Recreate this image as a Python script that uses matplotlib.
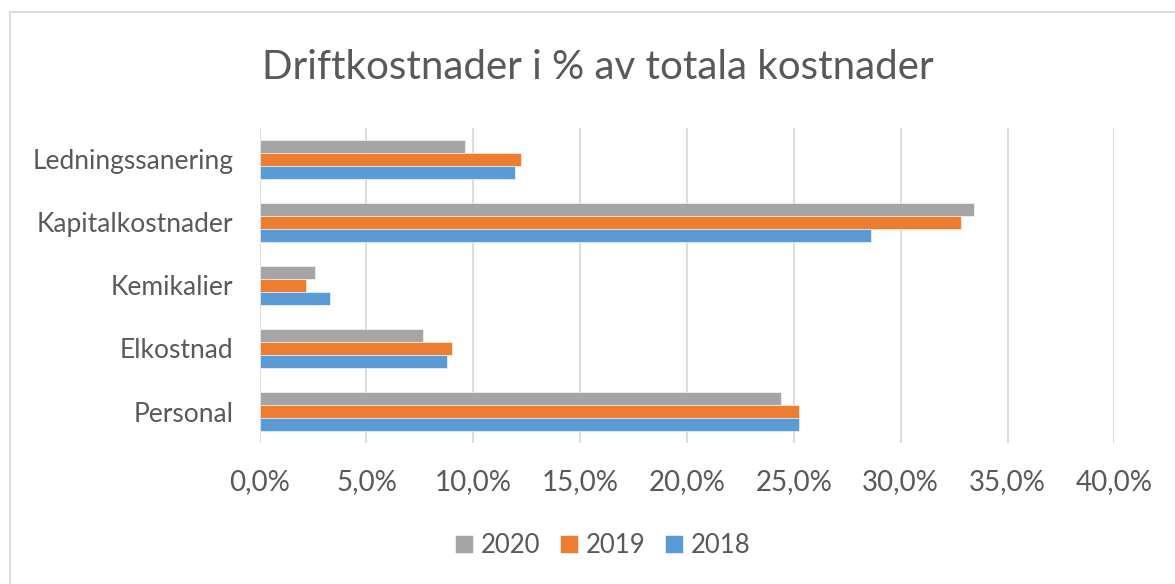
import matplotlib.pyplot as plt
import numpy as np
from matplotlib.patches import Rectangle
from matplotlib.ticker import FuncFormatter

plt.rcParams["font.family"] = ["Lato", "DejaVu Sans"]

categories = ["Personal", "Elkostnad", "Kemikalier", "Kapitalkostnader", "Ledningssanering"]
series = ["2020", "2019", "2018"]
values = {
    "2020": [24.4, 7.65, 2.6, 33.45, 9.6],
    "2019": [25.25, 9.0, 2.15, 32.8, 12.25],
    "2018": [25.25, 8.75, 3.3, 28.6, 11.95],
}
colors = {"2020": "#A5A5A5", "2019": "#ED7D31", "2018": "#5B9BD5"}
ticks = [0, 5, 10, 15, 20, 25, 30, 35, 40]

text_col = "#595959"

fig = plt.figure(figsize=(11.75, 5.84), dpi=100)
ax = fig.add_axes([0.2209, 0.2414, 0.7275, 0.5396])

y = np.arange(len(categories))
h = 0.206
offsets = {"2020": h, "2019": 0, "2018": -h}
for s in series:
    ax.barh(y + offsets[s], values[s], height=h, color=colors[s], label=s,
            edgecolor="white", linewidth=0.4, zorder=3)

ax.set_xlim(0, 40)
ax.set_ylim(-0.5, len(categories) - 0.5)
ax.set_xticks(ticks)
ax.xaxis.set_major_formatter(FuncFormatter(lambda v, p: f"{v:.1f}%".replace(".", ",")))
ax.set_yticks(y)
ax.set_yticklabels(categories)
ax.grid(axis="x", color="#D9D9D9", linewidth=1.3, zorder=0)
for sp in ax.spines.values():
    sp.set_visible(False)
ax.tick_params(axis="both", length=0, colors=text_col)
ax.tick_params(axis="x", pad=19, labelsize=20)
ax.tick_params(axis="y", pad=19, labelsize=19)

fig.text(0.509, 0.884, "Driftkostnader i % av totala kostnader", ha="center", va="center",
         fontsize=29, color=text_col)

handles, labels = ax.get_legend_handles_labels()
leg = fig.legend(handles, labels, loc="center", bbox_to_anchor=(0.513, 0.066), ncol=3,
                 frameon=False, fontsize=18.5, handlelength=0.7, handleheight=0.7,
                 handletextpad=0.3, columnspacing=0.75)
for t in leg.get_texts():
    t.set_color(text_col)

fig.add_artist(Rectangle((10 / 1175, -0.05), 1.2, 1 - 12 / 584 + 0.05, transform=fig.transFigure,
                         fill=False, edgecolor="#D9D9D9", linewidth=1.3))

fig.savefig("out.png", dpi=100)
